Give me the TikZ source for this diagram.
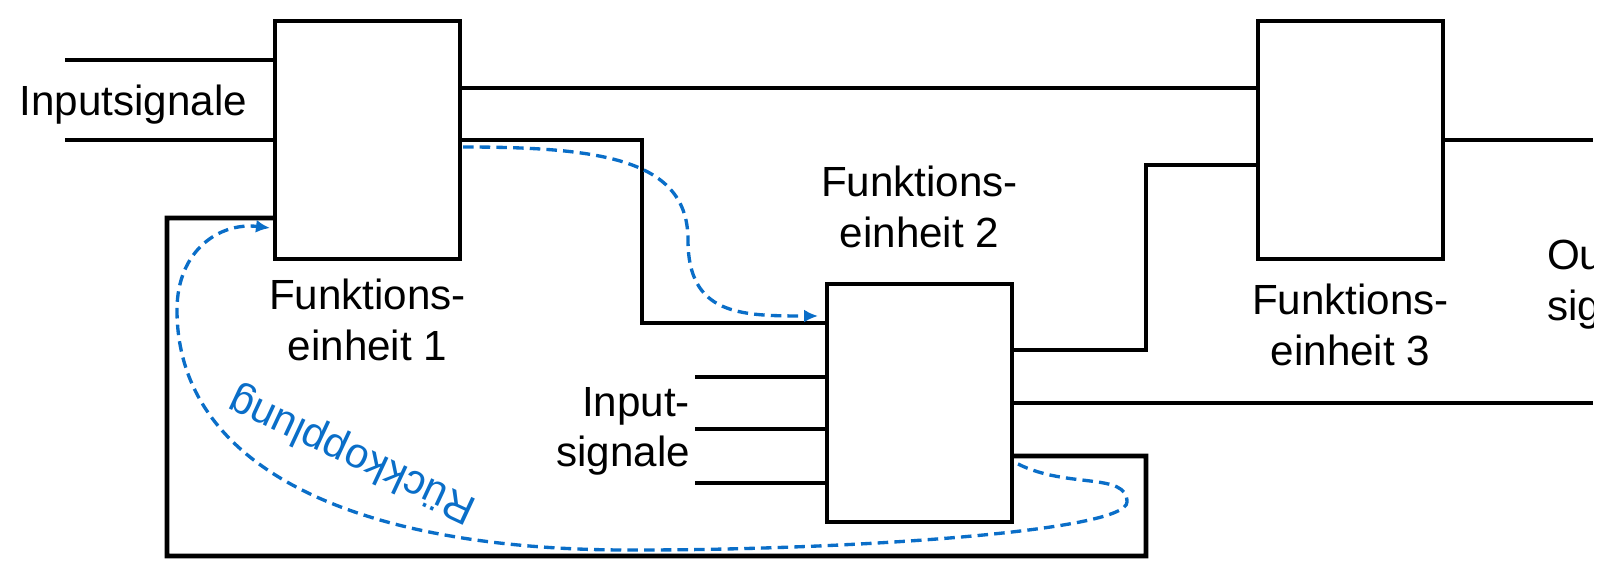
\documentclass[tikz,border=0pt]{standalone}
\usepackage{fontspec}
\setmainfont{Liberation Sans}
\usetikzlibrary{shapes,arrows,arrows.meta}
\usetikzlibrary{positioning}
\definecolor{fbblue}{RGB}{10,110,200}
\tikzset{auto,>=latex', node distance=1cm, font=\fontsize{24}{28.8}\selectfont}
\tikzstyle{block} = [draw, fill=white, rectangle, line width=2.7pt, minimum width=3.7cm, minimum height=4.76cm, inner sep=0pt, outer sep=0pt]
\tikzstyle{desc} = [align=center, inner sep=0pt, outer sep=0pt]
\tikzstyle{input} = [coordinate]
\tikzstyle{output} = [coordinate]
\tikzstyle{sig} = [line width=2.7pt]
\tikzstyle{fb} = [draw=fbblue, line width=1.9pt, dash pattern=on 6pt off 3.5pt, -{Latex[length=0.28cm,width=0.26cm]}]
\tikzstyle{fbtext} = [text=fbblue, inner sep=0pt]

\begin{document}
\begin{tikzpicture}
    \useasboundingbox (0,0) rectangle (32.1,11.26);
    \clip (0,0) rectangle (31.86,11.26);

    \node [block] (fe1) at (7.35,8.46) {};
    \node [block, below right=0.5cm and 7.34cm of fe1] (fe2) {};
    \node [block, right=15.96cm of fe1] (fe3) {};

    \node [desc, below=0.4cm of fe1] (fe1lbl) {Funktions-\\einheit 1};
    \node [desc, above=0.72cm of fe2] (fe2lbl) {Funktions-\\einheit 2};
    \node [desc, below=0.5cm of fe3] (fe3lbl) {Funktions-\\einheit 3};
    \node [desc, left=0.56cm of fe1.west, yshift=0.7cm] (in1lbl) {Inputsignale};
    \node [desc, align=right, left=2.74cm of fe2.west, yshift=-0.57cm] (in2lbl) {Input-\\signale};
    \node [desc, align=left, below right=2cm and 2.08cm of fe3.east] (outlbl) {Output-\\signale};

    \node [input, left=4.2cm of fe1.west, yshift=1.6cm] (in1a) {};
    \node [input, left=4.2cm of fe1.west] (in1b) {};
    \foreach \dy [count=\i] in {0.52,-0.52,-1.6}
        \node [input, left=2.64cm of fe2.west, yshift=\dy cm] (in2\i) {};
    \node [output, right=11.62cm of fe2.east] (out2) {};
    \node [output, right=3cm of fe3.east] (out3) {};
    \node [coordinate, right=3.64cm of fe1.east] (knee1) {};
    \node [coordinate, right=2.68cm of fe2.east, yshift=1.06cm] (knee2) {};
    \node [coordinate, below right=3.06cm and 2.68cm of fe2.east] (fbr) {};
    \node [coordinate, below left=5.94cm and 2.16cm of fe1.south west] (fbl) {};

    \draw [sig] (in1a) -- (in1a -| fe1.west);
    \draw [sig] (in1b) -- (fe1.west);
    \draw [sig] ([yshift=1.04cm]fe1.east) -- ([yshift=1.04cm]fe3.west);
    \draw [sig] (fe1.east) -- (knee1) |- ([yshift=1.6cm]fe2.west);
    \foreach \i in {1,2,3}
        \draw [sig] (in2\i) -- (in2\i -| fe2.west);
    \draw [sig] ([yshift=1.06cm]fe2.east) -- (knee2) |- ([yshift=-0.5cm]fe3.west);
    \draw [sig] (fe2.east) -- (out2);
    \draw [sig] (fe3.east) -- (out3);
    \draw [sig] ([yshift=-1.06cm]fe2.east) -| (fbr) -- (fbl) |- ([yshift=-1.56cm]fe1.west);

    % gestrichelte Pfeile
    \node [coordinate, below right=2cm and 4.56cm of fe1.east] (fwdbend) {};
    \node [coordinate, below right=1.98cm and 2.3cm of fe2.east] (loopr) {};
    \node [coordinate, below left=2.94cm and 3.74cm of fe2.west] (loopb) {};
    \node [coordinate, below left=3.4cm and 1.96cm of fe1.west] (loopl) {};
    \draw [fb] ([shift={(0.06,-0.14)}]fe1.east) .. controls +(2.8,0) and +(0,1.6) .. (fwdbend)
        .. controls +(0,-1.5) and +(-1.56,0) .. ([shift={(-0.18,1.74)}]fe2.west);
    \draw [fb] ([shift={(0.12,-1.22)}]fe2.east) .. controls +(1,-0.5) and +(0,0.6) .. (loopr)
        .. controls +(0,-0.6) and +(4,0) .. (loopb)
        .. controls +(-5.6,-0.04) and +(0,-3.2) .. (loopl)
        .. controls +(0,1.2) and +(-1,0.12) .. ([shift={(-0.1,-1.76)}]fe1.west);
    \node [fbtext, rotate=155] (fbtxt) at ([shift={(-0.3,-3.9)}]fe1.south) {Rückkopplung};
\end{tikzpicture}
\end{document}
